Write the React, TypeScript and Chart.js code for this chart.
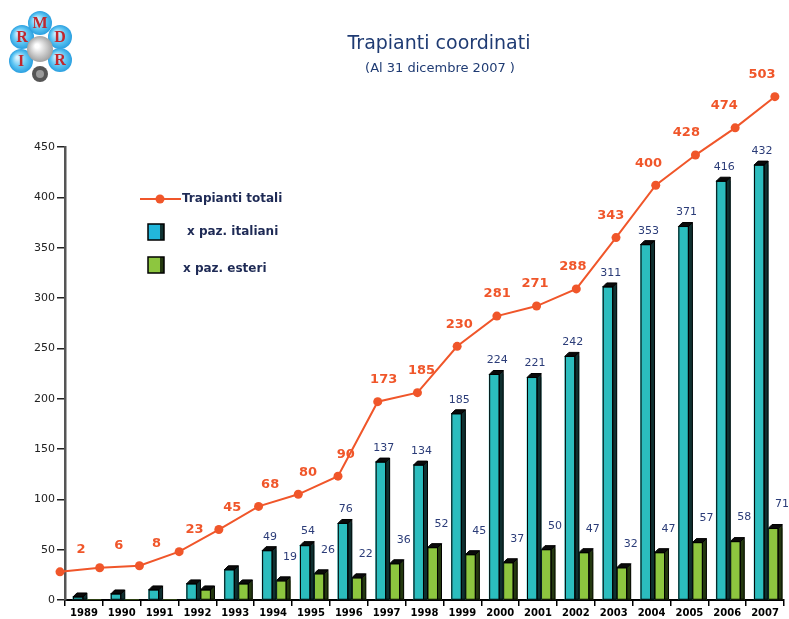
import React, { useEffect, useRef } from "react";
import { Chart, registerables } from "chart.js";

Chart.register(...registerables);

const years = ["1989", "1990", "1991", "1992", "1993", "1994", "1995", "1996", "1997", "1998", "1999", "2000", "2001", "2002", "2003", "2004", "2005", "2006", "2007"];
const italiani = [3, 6, 10, 16, 30, 49, 54, 76, 137, 134, 185, 224, 221, 242, 311, 353, 371, 416, 432];
const esteri = [0, 0, 0, 10, 16, 19, 26, 22, 36, 52, 45, 37, 50, 47, 32, 47, 57, 58, 71];
// position of the "Trapianti totali" points as drawn on the left axis
const totaliPlotted = [28, 32, 34, 48, 70, 93, 105, 123, 197, 206, 252, 282, 292, 309, 360, 412, 442, 469, 500];
// the numbers written next to those points
const totaliLabels = [2, 6, 8, 23, 45, 68, 80, 90, 173, 185, 230, 281, 271, 288, 343, 400, 428, 474, 503];
const yTickValues = [0, 50, 100, 150, 200, 250, 300, 350, 400, 450];
const firstBarLabel = 5;

const TEAL = "#2BBDBE";
const TEAL_SIDE = "#0f3030";
const GREEN = "#8DC63F";
const GREEN_SIDE = "#24390f";
const RED = "#F0562A";
const NAVY = "#2B3C78";
const FONT = "'DejaVu Sans', Verdana, sans-serif";
const DEPTH = 4;
const N = years.length;

const bar3d = {
  id: "bar3d",
  afterDatasetDraw(chart: any, args: any) {
    const ds: any = chart.data.datasets[args.index];
    if (ds.type === "line") return;
    const ctx = chart.ctx;
    const d = DEPTH;
    ctx.save();
    ctx.lineWidth = 1;
    ctx.strokeStyle = "#000";
    args.meta.data.forEach((el: any) => {
      const { x, y, base, width } = el.getProps(["x", "y", "base", "width"], true);
      if (base - y <= 0.5) return;
      const l = x - width / 2;
      const r = x + width / 2 - d;
      ctx.fillStyle = ds.sideColor;
      ctx.beginPath();
      ctx.moveTo(r, y);
      ctx.lineTo(r + d, y - d);
      ctx.lineTo(r + d, base);
      ctx.lineTo(r, base);
      ctx.closePath();
      ctx.fill();
      ctx.stroke();
      ctx.fillStyle = "#0a0a0a";
      ctx.beginPath();
      ctx.moveTo(l, y);
      ctx.lineTo(l + d, y - d);
      ctx.lineTo(r + d, y - d);
      ctx.lineTo(r, y);
      ctx.closePath();
      ctx.fill();
      ctx.stroke();
      ctx.strokeRect(l + 0.5, y, r - l - 0.5, base - y);
    });
    ctx.restore();
  },
};

const drawLogo = (ctx: CanvasRenderingContext2D) => {
  const bubble = (cx: number, cy: number, r: number) => {
    const g = ctx.createRadialGradient(cx - r * 0.3, cy - r * 0.3, r * 0.1, cx, cy, r);
    g.addColorStop(0, "#d8f2ff");
    g.addColorStop(0.6, "#5cc4f2");
    g.addColorStop(1, "#2a9fe0");
    ctx.fillStyle = g;
    ctx.beginPath();
    ctx.arc(cx, cy, r, 0, Math.PI * 2);
    ctx.fill();
  };
  const pts: [number, number, string][] = [
    [22, 37, "R"],
    [40, 23, "M"],
    [60, 37, "D"],
    [21, 61, "I"],
    [60, 60, "R"],
  ];
  pts.forEach(([x, y]) => bubble(x, y, 12));
  const g2 = ctx.createRadialGradient(37, 46, 2, 40, 49, 14);
  g2.addColorStop(0, "#ffffff");
  g2.addColorStop(1, "#9a9a9a");
  ctx.fillStyle = g2;
  ctx.beginPath();
  ctx.arc(40, 49, 13, 0, Math.PI * 2);
  ctx.fill();
  ctx.fillStyle = "#555";
  ctx.beginPath();
  ctx.arc(40, 74, 8, 0, Math.PI * 2);
  ctx.fill();
  ctx.fillStyle = "#999";
  ctx.beginPath();
  ctx.arc(40, 74, 4, 0, Math.PI * 2);
  ctx.fill();
  ctx.fillStyle = "#c1272d";
  ctx.font = "bold 16px 'Liberation Serif', serif";
  ctx.textAlign = "center";
  ctx.textBaseline = "middle";
  pts.forEach(([x, y, t]) => ctx.fillText(t, x, y + 1));
};

const decorations = {
  id: "decorations",
  afterDraw(chart: any) {
    const ctx: CanvasRenderingContext2D = chart.ctx;
    ctx.save();
    drawLogo(ctx);

    ctx.fillStyle = "#1F3B73";
    ctx.textAlign = "center";
    ctx.textBaseline = "middle";
    ctx.font = `19px ${FONT}`;
    ctx.fillText("Trapianti coordinati", 439, 44);
    ctx.font = `13px ${FONT}`;
    ctx.fillText("(Al 31 dicembre 2007 )", 440, 69);

    ctx.strokeStyle = RED;
    ctx.lineWidth = 2;
    ctx.beginPath();
    ctx.moveTo(140, 199);
    ctx.lineTo(181, 199);
    ctx.stroke();
    ctx.fillStyle = RED;
    ctx.beginPath();
    ctx.arc(160, 199, 4.5, 0, Math.PI * 2);
    ctx.fill();
    const square = (y: number, front: string, side: string) => {
      ctx.fillStyle = front;
      ctx.fillRect(148, y, 16, 16);
      ctx.fillStyle = side;
      ctx.fillRect(160, y, 4, 16);
      ctx.strokeStyle = "#000";
      ctx.lineWidth = 1.5;
      ctx.strokeRect(148, y, 16, 16);
    };
    square(224, "#22B7DC", "#0f3333");
    square(257, GREEN, GREEN_SIDE);
    ctx.fillStyle = "#1E2A55";
    ctx.textAlign = "left";
    ctx.font = `bold 12px ${FONT}`;
    ctx.fillText("Trapianti totali", 182, 199);
    ctx.fillText("x paz. italiani", 187, 232);
    ctx.fillText("x paz. esteri", 183, 269);

    const metaIt = chart.getDatasetMeta(0);
    const metaEs = chart.getDatasetMeta(1);
    const metaLine = chart.getDatasetMeta(2);

    // line markers (drawn here so the ones outside the plot area stay visible)
    ctx.fillStyle = RED;
    metaLine.data.forEach((p: any) => {
      ctx.beginPath();
      ctx.arc(p.x, p.y, 4.5, 0, Math.PI * 2);
      ctx.fill();
    });

    ctx.textAlign = "center";
    ctx.font = `11px ${FONT}`;
    ctx.fillStyle = NAVY;
    for (let i = firstBarLabel; i < N; i++) {
      const b = metaIt.data[i];
      ctx.fillText(String(italiani[i]), b.x + 1, b.y - 14);
      const g = metaEs.data[i];
      ctx.fillText(String(esteri[i]), g.x + 7, g.y - 24);
    }
    ctx.fillStyle = RED;
    ctx.font = `bold 13px ${FONT}`;
    const xs = chart.scales.x;
    for (let i = 0; i < N; i++) {
      const p = metaLine.data[i];
      ctx.fillText(String(totaliLabels[i]), xs.getPixelForValue(i) - 3, p.y - 22);
    }
    ctx.restore();
  },
};

export default function App() {
  const ref = useRef<HTMLCanvasElement | null>(null);
  useEffect(() => {
    if (!ref.current) return;
    const chart = new Chart(ref.current, {
      type: "bar",
      data: {
        labels: years,
        datasets: [
          {
            label: "x paz. italiani",
            data: italiani.map((v, i) => ({ x: i, y: v })),
            xAxisID: "xIt",
            yAxisID: "y",
            grouped: false,
            backgroundColor: TEAL,
            borderWidth: 0,
            sideColor: TEAL_SIDE,
            barThickness: 14,
            order: 1,
          } as any,
          {
            label: "x paz. esteri",
            data: esteri.map((v, i) => ({ x: i, y: v })),
            xAxisID: "xEs",
            yAxisID: "y",
            grouped: false,
            backgroundColor: GREEN,
            borderWidth: 0,
            sideColor: GREEN_SIDE,
            barThickness: 14,
            order: 2,
          } as any,
          {
            type: "line",
            label: "Trapianti totali",
            data: totaliPlotted.map((v, i) => ({ x: i, y: v })),
            xAxisID: "xLine",
            yAxisID: "y",
            borderColor: RED,
            backgroundColor: RED,
            borderWidth: 2,
            pointRadius: 0,
            pointHoverRadius: 0,
            tension: 0,
            clip: false,
            order: 0,
          } as any,
        ],
      },
      options: {
        animation: false,
        responsive: false,
        layout: { padding: { top: 147, right: 5, left: 0, bottom: 0 } },
        plugins: {
          legend: { display: false },
          title: { display: false },
          tooltip: { enabled: false },
        },
        scales: {
          x: {
            type: "category",
            offset: true,
            grid: {
              display: true,
              drawOnChartArea: false,
              drawTicks: true,
              tickLength: 6,
              color: "#000",
              lineWidth: 1.5,
              offset: true,
            },
            border: { display: true, color: "#000", width: 2 },
            ticks: {
              color: "#000",
              font: { family: FONT, size: 10, weight: "bold" },
              padding: 1,
              maxRotation: 0,
              autoSkip: false,
            },
            afterFit: (s: any) => {
              s.height = 19;
            },
          },
          // hidden index axes: italian bars sit just left of each year's centre, foreign bars just right
          xIt: { type: "linear", display: false, offset: false, grid: { offset: false }, min: -0.394, max: N - 0.394 },
          xEs: { type: "linear", display: false, offset: false, grid: { offset: false }, min: -0.764, max: N - 0.764 },
          xLine: { type: "linear", display: false, offset: false, min: 0.126, max: 18.23 },
          y: {
            min: 0,
            max: 450,
            afterBuildTicks: (s: any) => {
              s.ticks = yTickValues.map((v) => ({ value: v }));
            },
            grid: {
              drawOnChartArea: false,
              drawTicks: true,
              tickLength: 8,
              color: "#222",
              lineWidth: 1.5,
            },
            border: { display: true, color: "#555", width: 2.5 },
            ticks: {
              color: "#222",
              font: { family: FONT, size: 11 },
              padding: 2,
            },
            afterFit: (s: any) => {
              s.width = 65;
            },
          },
        } as any,
      },
      plugins: [bar3d, decorations],
    });
    return () => chart.destroy();
  }, []);
  return (
    <div style={{ position: "fixed", left: 0, top: 0, width: 789, height: 619, background: "#fff" }}>
      <canvas ref={ref} width={789} height={619} style={{ display: "block" }} />
    </div>
  );
}
